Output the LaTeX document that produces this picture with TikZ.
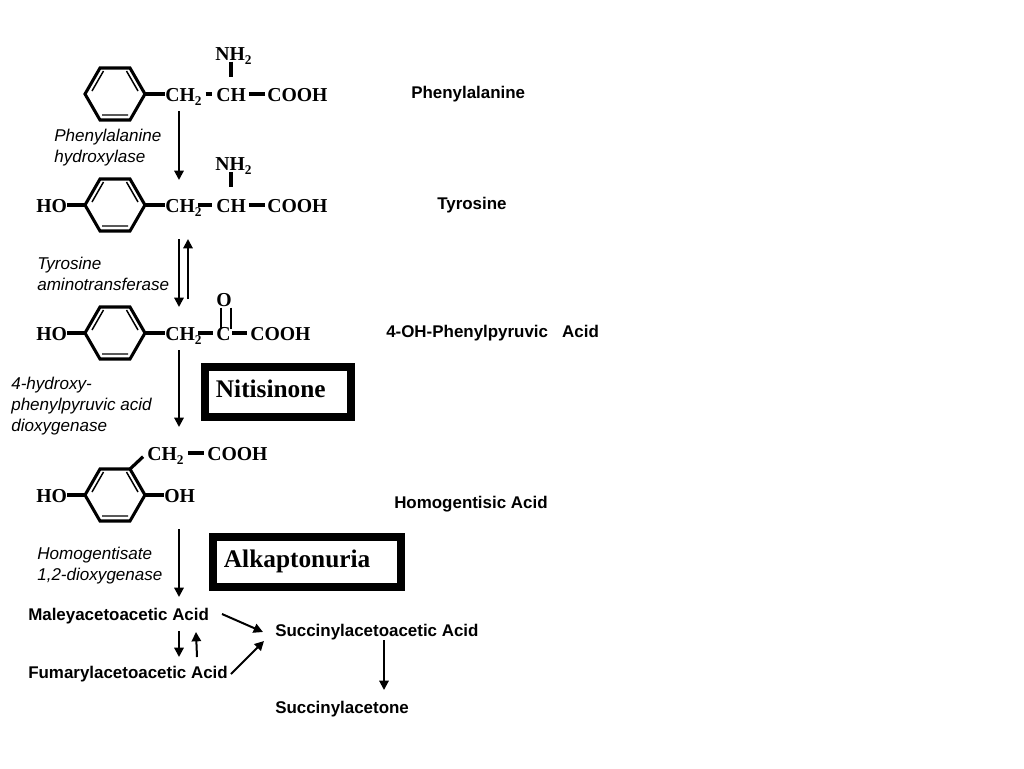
\documentclass[tikz,border=0pt]{standalone}
\usepackage{fontspec}
\setmainfont{Liberation Serif}
\setsansfont{Liberation Sans}
\usepackage{tikz}
\usetikzlibrary{arrows.meta}
\newcommand{\subtwo}{\raisebox{-3pt}{\fontsize{10}{10}\selectfont 2}}
\tikzset{
  chem/.style={anchor=west, inner sep=0pt, text height=10.5pt, text depth=0pt, font=\fontsize{14.8}{16}\selectfont\bfseries},
  name label/.style={anchor=west, inner sep=0pt, font=\fontsize{12.7}{15.75}\selectfont\sffamily\bfseries},
  enzyme/.style={anchor=west, inner sep=0pt, align=left, font=\fontsize{12.8}{15.75}\selectfont\sffamily\itshape},
  stopbox/.style={draw, line width=6pt, inner xsep=8.2pt, inner ysep=0pt, minimum height=37.5pt, align=left, text height=8.2pt, text depth=0pt, font=\fontsize{19}{22}\selectfont\bfseries},
  bond/.style={line width=2.4pt},
  rxn/.style={line width=1.5pt, -{Triangle[length=7pt,width=7pt]}},
}
\begin{document}
\begin{tikzpicture}[x=0.75pt,y=-0.75pt]
\useasboundingbox (0,0) rectangle (1024,768);
\foreach \ringname/\rowy in {phe/94,tyr/205,hpp/333,hga/495}{
  \draw[line width=2.3pt, line join=miter] (85,\rowy) -- (100,\rowy-26) -- (130,\rowy-26) -- (145,\rowy) -- (130,\rowy+26) -- (100,\rowy+26) -- cycle;
  \draw[line width=1.1pt] (92,\rowy-3) -- (103.5,\rowy-23) (126.5,\rowy-23) -- (138,\rowy-3) (102,\rowy+21) -- (128,\rowy+21);
  \coordinate (\ringname-left) at (85,\rowy);
  \coordinate (\ringname-right) at (145,\rowy);
  \coordinate (\ringname-top) at (130,\rowy-26);
}
\node[chem] (phech2) at (165,94) {CH\subtwo};
\node[chem] (phech) at (216,94) {CH};
\node[chem] (phecooh) at (267,94) {COOH};
\node[chem] (phenh2) at (215,53) {NH\subtwo};
\node[chem] (tyrho) at (36,205) {HO};
\node[chem] (tyrch2) at (165,205) {CH\subtwo};
\node[chem] (tyrch) at (216,205) {CH};
\node[chem] (tyrcooh) at (267,205) {COOH};
\node[chem] (tyrnh2) at (215,163) {NH\subtwo};
\node[chem] (hppho) at (36,333) {HO};
\node[chem] (hppch2) at (165,333) {CH\subtwo};
\node[chem] (hppc) at (216,333) {C};
\node[chem] (hppcooh) at (250,333) {COOH};
\node[chem] (hppo) at (216,299) {O};
\node[chem] (hgaho) at (36,495) {HO};
\node[chem] (hgaoh) at (164,495) {OH};
\node[chem] (hgach2) at (147,453) {CH\subtwo};
\node[chem] (hgacooh) at (207,453) {COOH};
\draw[bond] (phe-right) -- (phech2);
\draw[bond, shorten <=2.8pt, shorten >=3pt] (phech2) -- (phech);
\draw[bond, shorten <=2pt, shorten >=1.5pt] (phech) -- (phecooh);
\draw[bond, shorten <=1pt, shorten >=7.5pt] (phech |- phenh2.south) -- (phech);
\draw[bond] (tyrho) -- (tyr-left);
\draw[bond] (tyr-right) -- (tyrch2);
\draw[bond, shorten <=-3pt, shorten >=3pt] (tyrch2) -- (tyrch);
\draw[bond, shorten <=2pt, shorten >=1.5pt] (tyrch) -- (tyrcooh);
\draw[bond, shorten <=1.5pt, shorten >=8pt] (tyrch |- tyrnh2.south) -- (tyrch);
\draw[bond] (hppho) -- (hpp-left);
\draw[bond] (hpp-right) -- (hppch2);
\draw[bond, shorten <=-3pt, shorten >=2.5pt] (hppch2) -- (hppc);
\draw[bond, shorten <=1pt, shorten >=2.3pt] (hppc) -- (hppcooh);
\draw[line width=1.5pt] ([xshift=3.6pt,yshift=-1pt]hppo.south west) -- ([xshift=3.6pt,yshift=-2.5pt]hppc.north west);
\draw[line width=1.5pt] ([xshift=11pt,yshift=-1pt]hppo.south west) -- ([xshift=11pt,yshift=-2.5pt]hppc.north west);
\draw[bond] (hgaho) -- (hga-left);
\draw[bond] (hga-right) -- (hgaoh);
\draw[bond, shorten >=4pt] (hga-top) -- (hgach2.west);
\draw[bond, shorten <=3pt, shorten >=2.3pt] (hgach2) -- (hgacooh);
\node[name label] (phename) at (411,94) {Phenylalanine};
\node[name label] (tyrname) at (437,205) {Tyrosine};
\node[name label] (hppname) at (386,333) {4-OH-Phenylpyruvic\ \ \ Acid};
\node[name label] (hganame) at (394,504) {Homogentisic Acid};
\node[name label] (maley) at (28,616) {Maleyacetoacetic Acid};
\node[name label] (fumaryl) at (28,674) {Fumarylacetoacetic Acid};
\node[name label] (succinyl) at (275,632) {Succinylacetoacetic Acid};
\node[name label] (succone) at (275,709) {Succinylacetone};
\node[enzyme] (pah) at (54,147.5) {Phenylalanine\\hydroxylase};
\node[enzyme] (tat) at (37,274) {Tyrosine\\aminotransferase};
\node[enzyme] (hppd) at (11,406) {4-hydroxy-\\phenylpyruvic acid\\dioxygenase};
\node[enzyme] (hgd) at (37,565.5) {Homogentisate\\1,2-dioxygenase};
\node[stopbox, text width=93.1pt] (nitisinone) at (278,392) {Nitisinone};
\node[stopbox, text width=124.6pt] (alkaptonuria) at (307,562) {Alkaptonuria};
\foreach \from/\fx/\fy/\to/\tx/\ty in {
    phech2/14/17/tyrch2/14/-25,
    tyrch2/14/34/hppch2/14/-26,
    hppch2/23/-34/tyrch2/23/34,
    hppch2/14/17/hgach2/32/-26,
    hgaoh/15/34/maley/151/-19,
    maley/151/15/fumaryl/151/-17,
    fumaryl/169/-17/maley/168/16,
    maley/194/-2/succinyl/-12/0,
    fumaryl/203/0/succinyl/-11/9,
    succinyl/109/8/succone/109/-19}{
  \draw[rxn] ([shift={(\fx,\fy)}]\from.west) -- ([shift={(\tx,\ty)}]\to.west);
}
\end{tikzpicture}
\end{document}
